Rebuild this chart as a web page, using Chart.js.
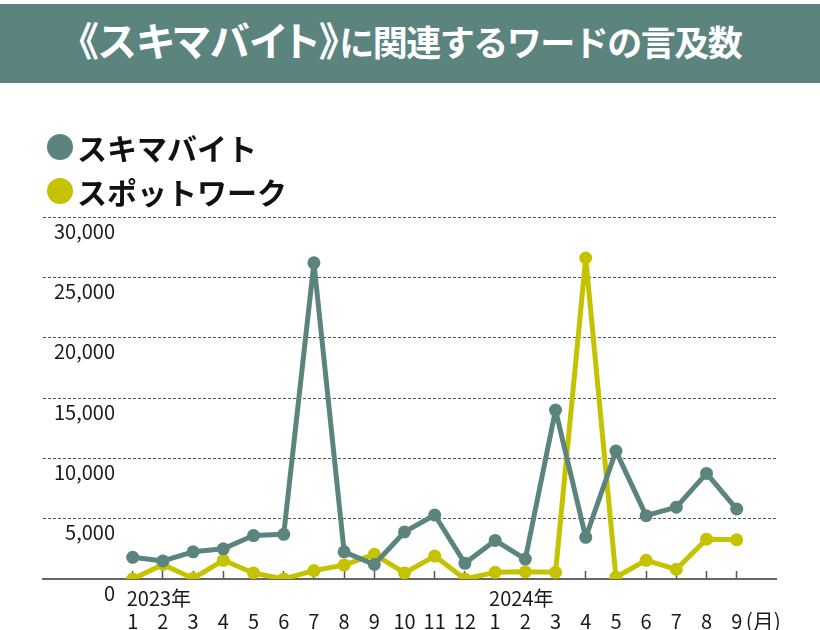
<!DOCTYPE html>
<html lang="ja">

<head>
    <meta charset="UTF-8">
    <title>スキマバイトに関連するワードの言及数</title>
    <script src="https://cdn.jsdelivr.net/npm/chart.js"></script>
    <style>
        body { margin: 0; width: 820px; height: 630px; position: relative; background: #fff; overflow: hidden;
               font-family: "Noto Sans CJK JP", "Noto Sans", sans-serif; }
        #myChart { position: absolute; left: 0; top: 0; }
        .banner { position: absolute; left: 0; top: 4px; width: 820px; height: 79px; background: #5b847f;
                  color: #fff; font-weight: bold; text-align: center; line-height: 71px; white-space: nowrap; }
        .banner .big { font-size: 40px; font-feature-settings: "palt"; }
        .banner .small { font-size: 35px; letter-spacing: -1.5px; }
        .legend { position: absolute; left: 47px; top: 125px; }
        .legend div { height: 44px; display: flex; align-items: center; font-size: 30px; font-weight: bold; color: #111; }
        .legend span.dot { display: inline-block; width: 26px; height: 26px; border-radius: 50%; margin-right: 4px; }
    </style>
</head>

<body>
    <canvas id="myChart" width="820" height="630"></canvas>
    <div class="banner"><span class="big">《スキマバイト》</span><span class="small">に関連するワードの言及数</span></div>
    <div class="legend" id="legend"></div>

    <script>
        // データ（2023年1月〜2024年9月）
        var months = ['1', '2', '3', '4', '5', '6', '7', '8', '9', '10', '11', '12',
                      '1', '2', '3', '4', '5', '6', '7', '8', '9'];
        var years = ['2023年', '', '', '', '', '', '', '', '', '', '', '',
                     '2024年', '', '', '', '', '', '', '', ''];
        var sukimaBaito = [1800, 1500, 2250, 2500, 3600, 3700, 26200, 2250, 1200, 3900, 5300, 1300,
                           3200, 1650, 14000, 3450, 10600, 5250, 5950, 8750, 5800];
        var spotWork = [0, 1200, 50, 1550, 500, 0, 700, 1150, 2050, 500, 1900, 0,
                        550, 600, 550, 26600, 150, 1550, 800, 3300, 3250];
        var yTicks = [0, 5000, 10000, 15000, 20000, 25000, 30000];
        var monthUnit = '(月)';

        var TEAL = '#5b847f';
        var YELLOW = '#c5c300';
        var X_MIN = -2.97, X_MAX = 21.3;

        Chart.defaults.font.family = '"Noto Sans CJK JP", "Noto Sans", sans-serif';
        Chart.defaults.color = '#1a1a1a';

        function toPoints(arr) {
            return arr.map(function (v, i) { return { x: i, y: v }; });
        }

        var lineStyle = {
            borderWidth: 5,
            borderJoinStyle: 'round',
            borderCapStyle: 'round',
            pointRadius: 6.5,
            pointHoverRadius: 6.5,
            pointBorderWidth: 0,
            tension: 0
        };

        var ctx = document.getElementById('myChart').getContext('2d');

        var myChart = new Chart(ctx, {
            type: 'line',
            data: {
                datasets: [
                    Object.assign({ label: 'スキマバイト', data: toPoints(sukimaBaito), borderColor: TEAL, backgroundColor: TEAL }, lineStyle),
                    Object.assign({ label: 'スポットワーク', data: toPoints(spotWork), borderColor: YELLOW, backgroundColor: YELLOW }, lineStyle)
                ]
            },
            options: {
                responsive: false,
                animation: false,
                layout: { padding: { top: 217, left: 43, right: 44, bottom: 0 } },
                plugins: {
                    legend: { display: false },
                    tooltip: { enabled: false }
                },
                scales: {
                    x: {
                        type: 'linear',
                        position: 'bottom',
                        weight: 1,
                        min: X_MIN,
                        max: X_MAX,
                        afterBuildTicks: function (scale) {
                            var t = months.map(function (m, i) { return { value: i }; });
                            t.push({ value: months.length - 0.12 });
                            scale.ticks = t;
                        },
                        afterFit: function (scale) { scale.height = 19; },
                        ticks: {
                            autoSkip: false,
                            maxRotation: 0,
                            minRotation: 0,
                            padding: 0,
                            font: function (c) {
                                return { size: c.index === months.length ? 21 : 20, lineHeight: 1.0 };
                            },
                            callback: function (value, index) {
                                return index < months.length ? months[index] : monthUnit;
                            }
                        },
                        grid: { display: false, drawTicks: false },
                        border: { display: false }
                    },
                    year: {
                        type: 'linear',
                        position: 'bottom',
                        weight: 0,
                        min: X_MIN,
                        max: X_MAX,
                        afterBuildTicks: function (scale) {
                            scale.ticks = years.map(function (y, i) { return { value: i }; });
                        },
                        afterFit: function (scale) { scale.height = 32; },
                        ticks: {
                            autoSkip: false,
                            maxRotation: 0,
                            minRotation: 0,
                            align: 'start',
                            labelOffset: -6,
                            padding: 17,
                            font: { size: 20, lineHeight: 1.0 },
                            callback: function (value, index) {
                                return years[index];
                            }
                        },
                        grid: {
                            drawOnChartArea: false,
                            drawTicks: true,
                            tickLength: -8,
                            tickColor: '#555',
                            tickWidth: 1.5
                        },
                        border: { display: true, color: '#666', width: 2 }
                    },
                    y: {
                        position: 'left',
                        min: 0,
                        max: 30000,
                        afterBuildTicks: function (scale) {
                            scale.ticks = yTicks.map(function (v) { return { value: v }; });
                        },
                        afterFit: function (scale) { scale.width = 0; },
                        ticks: {
                            mirror: true,
                            crossAlign: 'far',
                            padding: 11,
                            labelOffset: 14,
                            font: { size: 20 },
                            callback: function (value) {
                                return value.toLocaleString('en-US');
                            }
                        },
                        grid: {
                            drawTicks: false,
                            lineWidth: 1,
                            color: function (c) {
                                return c.tick && c.tick.value === 0 ? 'rgba(0,0,0,0)' : '#555';
                            }
                        },
                        border: { display: false, dash: [3, 2] }
                    }
                }
            }
        });

        // 凡例（データセットから生成）
        var legendEl = document.getElementById('legend');
        myChart.data.datasets.forEach(function (ds) {
            var row = document.createElement('div');
            var dot = document.createElement('span');
            dot.className = 'dot';
            dot.style.background = ds.borderColor;
            row.appendChild(dot);
            row.appendChild(document.createTextNode(ds.label));
            legendEl.appendChild(row);
        });
    </script>
</body>

</html>
